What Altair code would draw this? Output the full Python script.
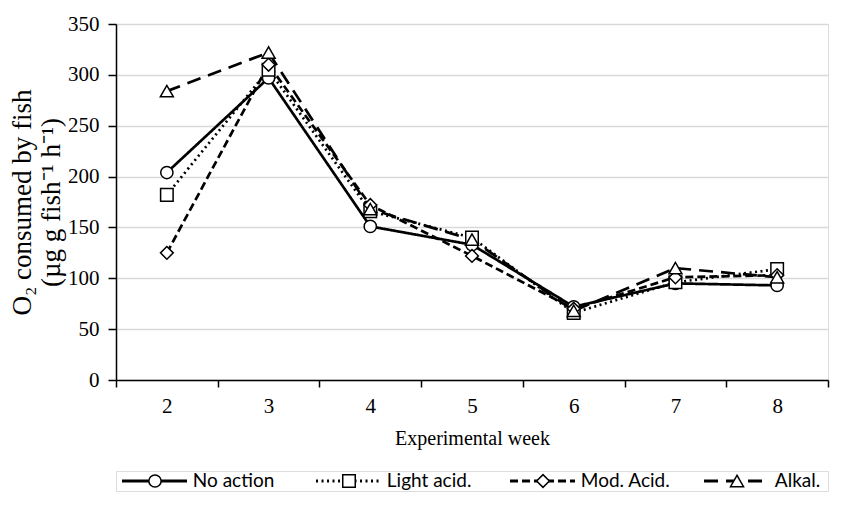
import altair as alt
import pandas as pd

weeks = [2, 3, 4, 5, 6, 7, 8]
series_names = ["No action", "Light acid.", "Mod. Acid.", "Alkal."]
no_action = [204, 297, 151, 133, 72, 95, 93]
light_acid = [182, 305, 166, 140, 66, 96, 109]
mod_acid = [125, 310, 172, 122, 70, 101, 103]
alkal = [284, 322, 168, 138, 68, 110, 101]
y_ticks = [0, 50, 100, 150, 200, 250, 300, 350]

values = [no_action, light_acid, mod_acid, alkal]
rows = []
for name, vals in zip(series_names, values):
    for w, v in zip(weeks, vals):
        rows.append({"week": str(w), "value": v, "series": name})
df = pd.DataFrame(rows)

shapes = ["circle", "square", "diamond", "triangle-up"]
dashes = [[1, 0], [2, 3.5], [8, 4], [14, 8]]
sizes_pt = [150, 170, 95, 140]

serif = "Liberation Serif"
sans = "Lato"

x_enc = alt.X("week:N", sort=[str(w) for w in weeks],
              scale=alt.Scale(paddingInner=0, paddingOuter=0),
              axis=alt.Axis(title="Experimental week", labelAngle=0, tickBand="extent",
                            labelFont=serif, labelFontSize=21, titleFont=serif,
                            titleFontSize=20, titleFontWeight="normal", titleColor="black",
                            labelColor="black", domainColor="black", tickColor="black",
                            tickSize=7, labelPadding=8, titlePadding=12, grid=False,
                            domainWidth=1.5, tickWidth=1.5))
y_enc = alt.Y("value:Q", scale=alt.Scale(domain=[0, 350], nice=False),
              axis=alt.Axis(values=y_ticks, title=["O₂ consumed by fish", "(µg g fish⁻¹ h⁻¹)"],
                            labelFont=serif, labelFontSize=21, titleFont=serif,
                            titleFontSize=27, titleFontWeight="normal", titleColor="black",
                            labelColor="black", domainColor="black", tickColor="black",
                            tickSize=8, labelPadding=9, titlePadding=2, grid=True,
                            gridColor="#d9d9d9", gridWidth=1.5, domainWidth=1.5, tickWidth=1.5,
                            titleLineHeight=29))

dash_scale = alt.Scale(domain=series_names, range=dashes)
shape_scale = alt.Scale(domain=series_names, range=shapes)
size_scale = alt.Scale(domain=series_names, range=sizes_pt)

lines = alt.Chart(df).mark_line(color="black", strokeWidth=2.7).encode(
    x=x_enc, y=y_enc,
    strokeDash=alt.StrokeDash("series:N", scale=dash_scale, legend=None),
    detail="series:N",
)
points = alt.Chart(df).mark_point(filled=True, fill="white", stroke="black", strokeWidth=1.5,
                                  opacity=1).encode(
    x=x_enc, y=y_enc,
    shape=alt.Shape("series:N", scale=shape_scale, legend=None),
    size=alt.Size("series:N", scale=size_scale, legend=None),
)
main = alt.layer(lines, points).properties(width=712, height=356)

# custom legend (line + marker + label per series)
leg = pd.DataFrame({"series": series_names, "slot": [0, 1, 2, 3]})
lx = alt.Scale(domain=[-0.031, 3.639], range=[0, 712])
legend_base = alt.Chart(leg).transform_calculate(
    x0="datum.slot", x1="datum.slot + 0.335", xm="datum.slot + 0.17", xt="datum.slot + 0.365"
)
leg_lines = legend_base.mark_rule(color="black", strokeWidth=3).encode(
    x=alt.X("x0:Q", scale=lx, axis=None), x2="x1:Q", y=alt.value(10),
    strokeDash=alt.StrokeDash("series:N", scale=dash_scale, legend=None),
)
leg_pts = legend_base.mark_point(filled=True, fill="white", stroke="black", strokeWidth=1.5,
                                 opacity=1).encode(
    x=alt.X("xm:Q", scale=lx, axis=None), y=alt.value(10),
    shape=alt.Shape("series:N", scale=shape_scale, legend=None),
    size=alt.Size("series:N", scale=size_scale, legend=None),
)
leg_text = legend_base.mark_text(align="left", baseline="middle", font=sans, fontSize=19,
                                 color="black").encode(
    x=alt.X("xt:Q", scale=lx, axis=None), y=alt.value(10), text="series:N",
)
legend = alt.layer(leg_lines, leg_pts, leg_text).properties(width=712, height=20)

chart = alt.vconcat(main, legend, spacing=21).resolve_scale(
    x="independent", strokeDash="shared", shape="shared", size="shared"
).properties(padding={"left": 0, "top": 4, "right": 5, "bottom": 5}).configure_view(
    strokeWidth=0
).configure(background="white")

chart.save("out.html", embed_options={"renderer": "svg", "actions": False})
